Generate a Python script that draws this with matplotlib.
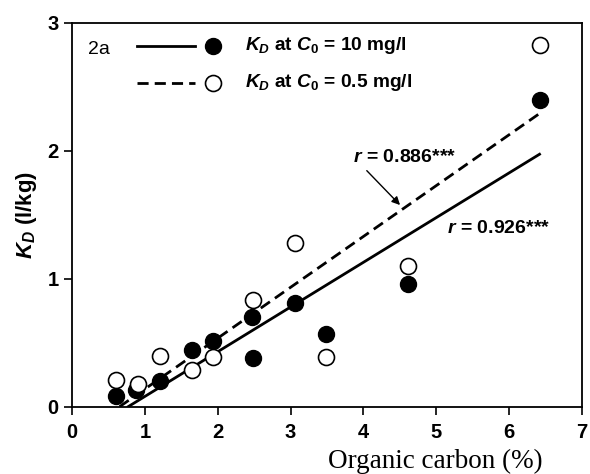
import matplotlib
matplotlib.use("Agg")
import matplotlib.pyplot as plt
import numpy as np

# organic carbon (%) and K_D (l/kg)
oc_high = [0.60, 0.88, 1.21, 1.64, 1.93, 2.47, 2.49, 3.06, 3.48, 4.61, 6.42]
kd_high = [0.08, 0.13, 0.20, 0.44, 0.51, 0.70, 0.38, 0.81, 0.565, 0.96, 2.40]

oc_low = [0.60, 0.90, 1.21, 1.64, 1.93, 2.49, 3.06, 3.48, 4.61, 6.42]
kd_low = [0.21, 0.177, 0.40, 0.287, 0.39, 0.83, 1.28, 0.39, 1.10, 2.83]

# regression lines: slope, intercept, x range
fit_high = (0.349, -0.268, 0.77, 6.42)
fit_low = (0.397, -0.258, 0.65, 6.42)

r_high = "0.926"
r_low = "0.886"

plt.rcParams["font.family"] = "Liberation Sans"
plt.rcParams["mathtext.fontset"] = "custom"
plt.rcParams["mathtext.rm"] = "Liberation Sans:bold"
plt.rcParams["mathtext.it"] = "Liberation Sans:bold:italic"
plt.rcParams["mathtext.bf"] = "Liberation Sans:bold"

fig = plt.figure(figsize=(5.9, 4.74), dpi=100)
ax = fig.add_axes([0.1225, 0.142, 0.8635, 0.810])

ms = 11.5
for fit, ls in [(fit_high, "-"), (fit_low, (0, (4, 2.2)))]:
    k, b, x0, x1 = fit
    xs = np.array([x0, x1])
    ax.plot(xs, k * xs + b, color="black", linestyle=ls, linewidth=2.0, zorder=2)

ax.plot(oc_high, kd_high, "o", color="black", markersize=ms, zorder=3, linestyle="none")
ax.plot(oc_low, kd_low, "o", markerfacecolor="white", markeredgecolor="black",
        markeredgewidth=1.2, markersize=ms, zorder=4, linestyle="none")

ax.set_xlim(0, 7)
ax.set_ylim(0, 3)
ax.set_xticks(range(0, 8))
ax.set_yticks(range(0, 4))
ax.tick_params(direction="out", length=6, width=1.2, labelsize=14.5, pad=4)
ax.tick_params(axis="x", pad=5.5)
for lbl in ax.get_xticklabels() + ax.get_yticklabels():
    lbl.set_fontweight("bold")
for sp in ax.spines.values():
    sp.set_linewidth(1.3)

# legend drawn by hand inside the axes
ax.text(0.22, 2.79, "2a", fontsize=14, va="center", ha="left")
ax.plot([0.89, 1.69], [2.82, 2.82], color="black", linewidth=2.0)
ax.plot([1.94], [2.82], "o", color="black", markersize=ms)
ax.plot([0.89, 1.69], [2.53, 2.53], color="black", linewidth=2.0, linestyle=(0, (4, 2.2)))
ax.plot([1.94], [2.53], "o", markerfacecolor="white", markeredgecolor="black",
        markeredgewidth=1.2, markersize=ms)
ax.text(2.38, 2.82, r"$K_D$ at $C_0$ = 10 mg/l", fontsize=13.8, fontweight="bold", va="center")
ax.text(2.38, 2.53, r"$K_D$ at $C_0$ = 0.5 mg/l", fontsize=13.8, fontweight="bold", va="center")

ax.text(3.86, 1.95, r"$r$ = " + r_low + "***", fontsize=14, fontweight="bold", va="center")
ax.annotate("", xy=(4.53, 1.56), xytext=(4.02, 1.86),
            arrowprops=dict(arrowstyle="-|>", color="black", lw=1.0, mutation_scale=12))
ax.text(5.15, 1.39, r"$r$ = " + r_high + "***", fontsize=14, fontweight="bold", va="center")

ax.set_ylabel(r"$K_D$ (l/kg)", fontsize=16, fontweight="bold", labelpad=6)
fig.text(0.919, 0.0135, "Organic carbon (%)", fontsize=19.5, family="Liberation Serif",
         ha="right", va="baseline")

fig.savefig("out.png", dpi=100)
